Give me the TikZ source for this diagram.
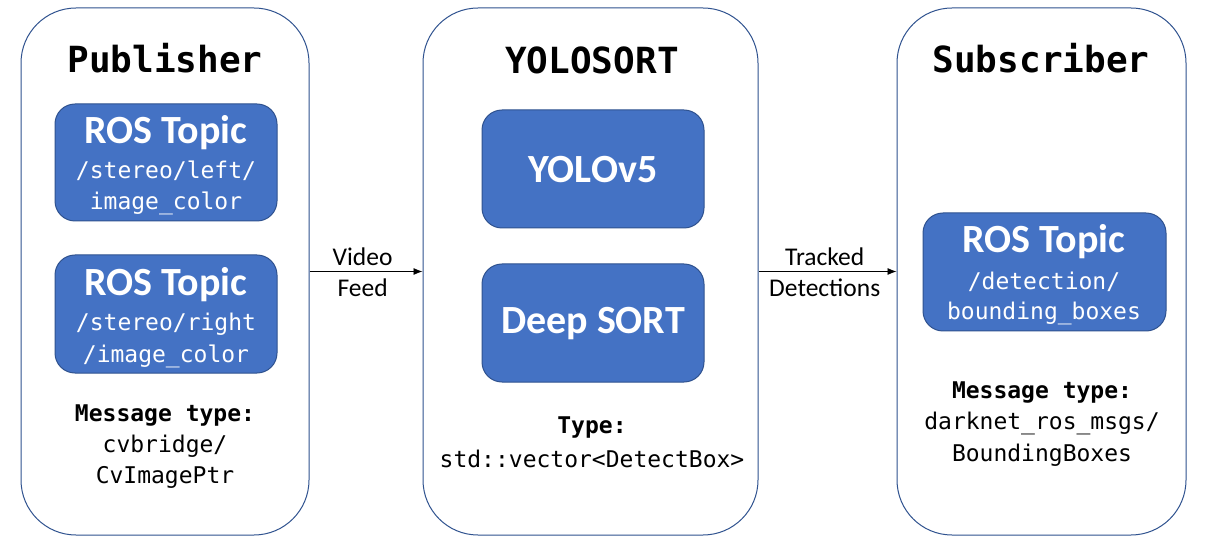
\documentclass[tikz,border=0pt]{standalone}
\usepackage{fontspec}
\setmainfont{Carlito}
\newfontfamily\monof{DejaVu Sans Mono}
\usetikzlibrary{arrows.meta}
\definecolor{boxblue}{HTML}{4472C4}
\definecolor{edgeblue}{HTML}{2F528F}
\begin{document}
\begin{tikzpicture}[x=1pt,y=-1pt,
 outer/.style={draw=edgeblue, line width=1pt, rounded corners=55pt, fill=white, inner sep=0pt},
 inner/.style={draw=edgeblue, line width=1pt, rounded corners=20pt, fill=boxblue, inner sep=0pt},
 title/.style={font=\monof\bfseries\fontsize{36}{40}\selectfont, inner sep=0pt},
 head/.style={font=\bfseries\fontsize{40}{46}\selectfont, text=white, inner sep=0pt},
 wmono/.style={font=\monof\fontsize{23}{28}\selectfont, text=white, inner sep=0pt},
 bmono/.style={font=\monof\bfseries\fontsize{23}{28}\selectfont, inner sep=0pt},
 mono/.style={font=\monof\fontsize{23}{28}\selectfont, inner sep=0pt},
 lbl/.style={font=\fontsize{25.5}{30}\selectfont, inner sep=0pt},
 conn/.style={-{Latex[length=9pt,width=7pt]}, line width=0.8pt}
]
\useasboundingbox (0,0) rectangle (1205,545);
% outer boxes
\node[outer, minimum width=288, minimum height=527] (pub) at (165,271.5) {};
\node[outer, minimum width=335, minimum height=527] (yolo) at (590.5,271.5) {};
\node[outer, minimum width=289, minimum height=527] (sub) at (1041.5,271.5) {};
% titles
\node[title] (pubt) at (165,58) {Publisher};
\node[title] (yolot) at (592,60) {YOLOSORT};
\node[title] (subt) at (1041,58) {Subscriber};
% publisher inner
\node[inner, minimum width=222, minimum height=117] (pt1) at (166,162.5) {};
\node[head] (pt1h) at (166,133) {ROS Topic};
\node[wmono] (pt1a) at (166,171) {/stereo/left/};
\node[wmono] (pt1b) at (166,203) {image\_color};
\node[inner, minimum width=222, minimum height=118] (pt2) at (166,314) {};
\node[head] (pt2h) at (166,285) {ROS Topic};
\node[wmono] (pt2a) at (166,324) {/stereo/right};
\node[wmono] (pt2b) at (166,356) {/image\_color};
\node[bmono] (pmt) at (165,416) {Message type:};
\node[mono] (pm1) at (165,446) {cvbridge/};
\node[mono] (pm2) at (165,477) {CvImagePtr};
% yolosort inner
\node[inner, minimum width=222, minimum height=118] (yv5) at (593,169) {};
\node[head] (yv5t) at (593,170) {YOLOv5};
\node[inner, minimum width=222, minimum height=118] (ds) at (593,323) {};
\node[head] (dst) at (593,324) {Deep SORT};
\node[bmono] (yty) at (592,428) {Type:};
\node[mono] (yv) at (592,459) {std::vector<DetectBox>};
% subscriber inner
\node[inner, minimum width=243, minimum height=118] (st) at (1044.5,272) {};
\node[head] (sth) at (1044,242) {ROS Topic};
\node[wmono] (sta) at (1044,282) {/detection/};
\node[wmono] (stb) at (1044,313) {bounding\_boxes};
\node[bmono] (smt) at (1042,393) {Message type:};
\node[mono] (sm1) at (1042,423) {darknet\_ros\_msgs/};
\node[mono] (sm2) at (1042,455) {BoundingBoxes};
% connectors
\draw[conn] (pub.east) -- node[lbl, pos=0.47, yshift=15pt] (vf1) {Video} node[lbl, pos=0.47, yshift=-16pt] (vf2) {Feed} (yolo.west);
\draw[conn] (yolo.east) -- node[lbl, pos=0.48, yshift=15pt] (td1) {Tracked} node[lbl, pos=0.48, yshift=-16pt] (td2) {Detections} (sub.west);
\end{tikzpicture}
\end{document}
